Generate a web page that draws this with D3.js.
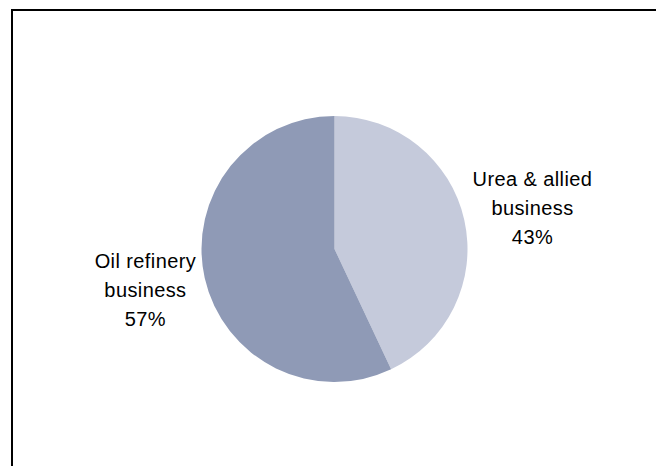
<!DOCTYPE html>
<html>
<head>
<meta charset="utf-8">
<script src="https://cdn.jsdelivr.net/npm/d3@7"></script>
<style>
  html, body { margin: 0; padding: 0; background: #fff; overflow: hidden; }
  svg { display: block; }
  text { font-family: "Liberation Sans", Arial, sans-serif; font-size: 20px; letter-spacing: 0.4px; fill: #000; }
</style>
</head>
<body>
<svg id="chart" width="656" height="466"></svg>
<script>
// Business segment shares (percent)
const segments = ["Urea & allied business", "Oil refinery business"];
const shares = [43, 57];
const labelLines = [["Urea & allied", "business", "43%"], ["Oil refinery", "business", "57%"]];
const colors = ["#c5cadb", "#8f9ab6"];

const width = 656, height = 466;
const svg = d3.select("#chart");

// Chart frame (right and bottom edges run past the visible area)
svg.append("rect")
  .attr("x", 12).attr("y", 10)
  .attr("width", 700).attr("height", 500)
  .attr("fill", "none").attr("stroke", "#000").attr("stroke-width", 2);

const cx = 334.5, cy = 249, radius = 133;

const pie = d3.pie().sort(null).value(d => d)(shares);
const arc = d3.arc().innerRadius(0).outerRadius(radius);

const g = svg.append("g").attr("transform", `translate(${cx},${cy})`);
g.selectAll("path")
  .data(pie)
  .join("path")
  .attr("d", arc)
  .attr("fill", (d, i) => colors[i]);

// Data labels placed outside each slice
const lineHeight = 28.8;
const labels = g.selectAll("g.label")
  .data(pie)
  .join("g")
  .attr("class", "label");

labels.each(function (d, i) {
  const mid = (d.startAngle + d.endAngle) / 2;
  const t = d3.select(this).append("text").attr("text-anchor", "middle");
  labelLines[i].forEach((line, k) => {
    t.append("tspan")
      .attr("x", 0)
      .attr("y", (k - 1) * lineHeight + 7)
      .text(line);
  });
  // push the block outward so its near edge sits just clear of the pie
  const w = t.node().getBBox().width;
  const lx = Math.sin(mid) * (radius + 10 + w / 2);
  const ly = -Math.cos(mid) * (radius + 56);
  d3.select(this).attr("transform", `translate(${lx},${ly})`);
});
</script>
</body>
</html>
